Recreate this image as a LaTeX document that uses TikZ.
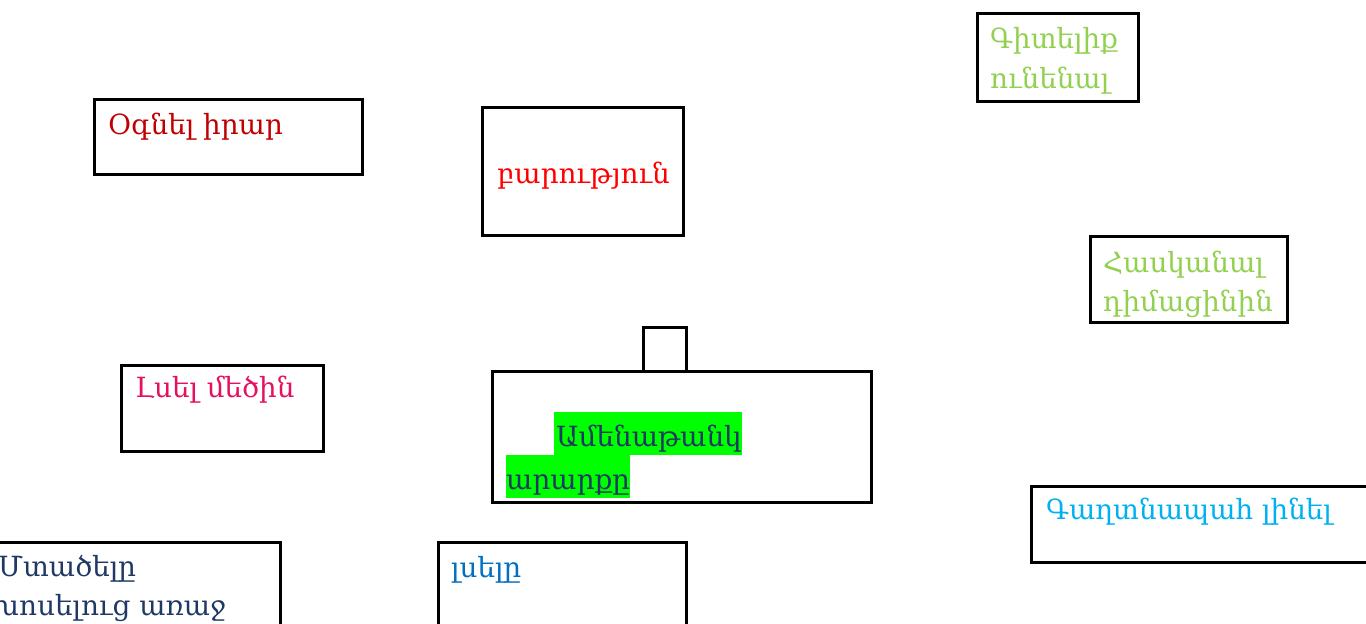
\documentclass[tikz,border=0pt]{standalone}
\usepackage{fontspec}
\setmainfont{DejaVu Serif}
\definecolor{cdarkred}{RGB}{192,0,0}
\definecolor{cred}{RGB}{255,0,0}
\definecolor{cgreen}{RGB}{146,208,80}
\definecolor{cpink}{RGB}{228,16,96}
\definecolor{cnavy}{RGB}{31,56,100}
\definecolor{cblue}{RGB}{0,112,192}
\definecolor{clblue}{RGB}{0,176,240}
\definecolor{chl}{RGB}{0,255,0}
\begin{document}
\begin{tikzpicture}[x=1pt,y=-1pt,
  box/.style={draw=black,line width=2.6pt,inner sep=0pt,anchor=north west},
  lbl/.style={inner sep=0pt,anchor=base west,font=\fontsize{27.8}{40}\selectfont}]
\useasboundingbox (0,0) rectangle (1366,624);
\clip (0,0) rectangle (1366,624);
% boxes
\node[box,minimum width=268,minimum height=75] (b1) at (93,98) {};
\node[box,minimum width=201,minimum height=128] (b2) at (481,106) {};
\node[box,minimum width=161,minimum height=88] (b3) at (976,12) {};
\node[box,minimum width=197,minimum height=86] (b4) at (1089,235) {};
\node[box,minimum width=43,minimum height=44] (b5) at (642,326) {};
\node[box,minimum width=379,minimum height=131] (b6) at (491,370) {};
\node[box,minimum width=202,minimum height=86] (b7) at (120,364) {};
\node[box,minimum width=300,minimum height=120] (b8) at (-21,541) {};
\node[box,minimum width=248,minimum height=120] (b9) at (437,541) {};
\node[box,minimum width=360,minimum height=76] (b10) at (1030,485) {};
% highlight
\fill[chl] (554,412) rectangle (742,455);
\fill[chl] (506,455) rectangle (630,498);
% texts
\node[lbl,text=cdarkred] (t1) at (108,134) {Օգնել իրար};
\node[lbl,text=cred] (t2) at (497,183) {բարություն};
\node[lbl,text=cgreen] (t3a) at (990,48) {Գիտելիք};
\node[lbl,text=cgreen] (t3b) at (990,88) {ունենալ};
\node[lbl,text=cgreen] (t4a) at (1103,272) {Հասկանալ};
\node[lbl,text=cgreen] (t4b) at (1103,311) {դիմացինին};
\node[lbl,text=cnavy] (t6a) at (556,446) {Ամենաթանկ};
\node[lbl,text=cnavy] (t6b) at (506,489) {արարքը};
\node[lbl,text=cpink] (t7) at (135,397) {Լսել մեծին};
\node[lbl,text=cnavy] (t8a) at (-2,576) {Մտածելը};
\node[lbl,text=cnavy] (t8b) at (-8,615) {խոսելուց առաջ};
\node[lbl,text=cblue] (t9) at (451,577) {լսելը};
\node[lbl,text=clblue] (t10) at (1046,519) {Գաղտնապահ լինել};
\end{tikzpicture}
\end{document}
